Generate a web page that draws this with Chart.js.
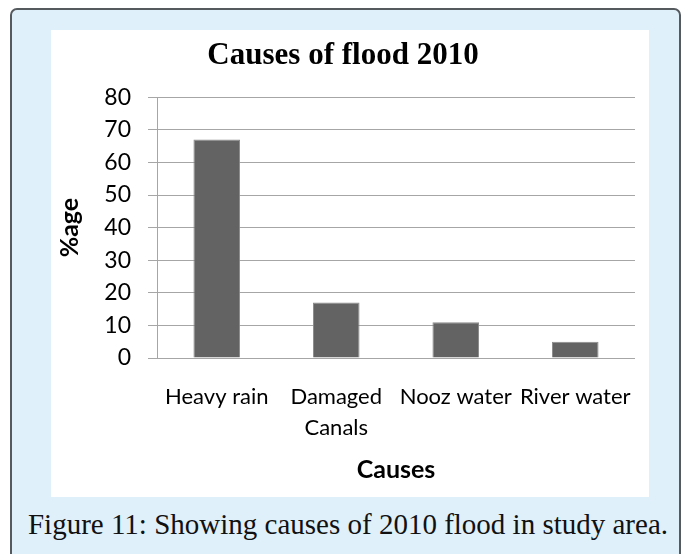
<!DOCTYPE html>
<html>
<head>
<meta charset="utf-8">
<script src="https://cdn.jsdelivr.net/npm/chart.js@4.4.1/dist/chart.umd.min.js"></script>
<style>
  html, body { margin: 0; padding: 0; background: #ffffff; }
  body { width: 685px; height: 554px; position: relative; overflow: hidden; }
  #frame {
    position: absolute; left: 10px; top: 8px; width: 671px; height: 560px;
    background: #dff0fb; border: 2px solid #555a5e; border-radius: 7px; box-sizing: border-box;
  }
  #panel {
    position: absolute; left: 51px; top: 30px; width: 598px; height: 467px; background: #ffffff;
  }
  #caption {
    position: absolute; left: 12px; top: 509px; width: 672px; text-align: center;
    font-family: "Liberation Serif", serif; font-size: 29px; line-height: 30px; color: #111; white-space: nowrap;
  }
  canvas { display: block; }
</style>
</head>
<body>
<div id="frame"></div>
<div id="panel"><canvas id="chart" width="598" height="467"></canvas></div>
<div id="caption">Figure 11: Showing causes of 2010 flood in study area.</div>
<script>
// Share of flood causes, 2010 (percent)
const categories = ["Heavy rain", ["Damaged", "Canals"], "Nooz water", "River water"];
const percentages = [67, 17, 11, 5];
const yTicks = [0, 10, 20, 30, 40, 50, 60, 70, 80];

const gridColor = "#a6a6a6";
const labelFont = "Lato, 'Noto Sans', sans-serif";

new Chart(document.getElementById("chart"), {
  type: "bar",
  data: {
    labels: categories,
    datasets: [{
      label: "%age",
      data: percentages,
      backgroundColor: "#636363",
      borderColor: "#8a8a8a",
      borderWidth: 1,
      categoryPercentage: 1,
      barPercentage: 0.39
    }]
  },
  options: {
    responsive: false,
    animation: false,
    layout: { padding: { left: 0, right: 14, top: 0, bottom: 0 } },
    plugins: {
      legend: { display: false },
      tooltip: { enabled: false },
      title: {
        display: true,
        text: "Causes of flood 2010",
        color: "#000",
        font: { family: "'Liberation Serif', serif", size: 31, weight: "bold", lineHeight: 1.2 },
        padding: { top: 7, bottom: 23 }
      }
    },
    scales: {
      x: {
        grid: { display: false, drawTicks: false },
        border: { display: false },
        ticks: {
          color: "#000",
          font: { family: labelFont, size: 22, lineHeight: 1.4 },
          padding: 24,
          maxRotation: 0,
          minRotation: 0,
          autoSkip: false
        },
        title: {
          display: true,
          text: "Causes",
          color: "#000",
          font: { family: labelFont, size: 25, weight: "bold", lineHeight: 1.2 },
          padding: { top: 0, bottom: 12 }
        },
        afterFit: (scale) => {
          scale.height = 139;
          // let the outer category labels overhang instead of shrinking the plot
          scale.paddingLeft = 0;
          scale.paddingRight = 0;
        }
      },
      y: {
        min: 0,
        max: 80,
        afterBuildTicks: (scale) => { scale.ticks = yTicks.map(v => ({ value: v })); },
        grid: { color: gridColor, lineWidth: 1, tickLength: 9, drawTicks: true, tickColor: gridColor },
        border: { display: true, color: gridColor, width: 1 },
        ticks: {
          color: "#000",
          font: { family: labelFont, size: 23 },
          padding: 17
        },
        title: {
          display: true,
          text: "%age",
          color: "#000",
          font: { family: labelFont, size: 25, weight: "bold", lineHeight: 1.2 },
          padding: { top: 4, bottom: 0 }
        },
        afterFit: (scale) => { scale.width = 106; }
      }
    }
  }
});
</script>
</body>
</html>
